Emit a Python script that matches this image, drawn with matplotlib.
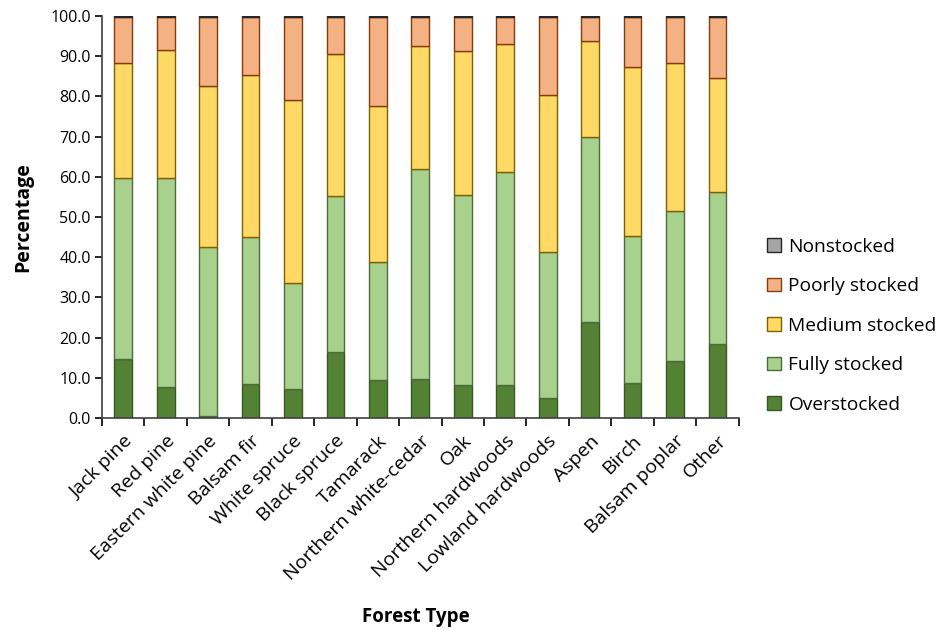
import numpy as np
import matplotlib
matplotlib.use("Agg")
import matplotlib.pyplot as plt
from matplotlib.patches import Patch

plt.rcParams["font.family"] = ["Open Sans", "DejaVu Sans"]

forest_types = [
    "Jack pine", "Red pine", "Eastern white pine", "Balsam fir", "White spruce",
    "Black spruce", "Tamarack", "Northern white-cedar", "Oak", "Northern hardwoods",
    "Lowland hardwoods", "Aspen", "Birch", "Balsam poplar", "Other",
]

# Share of area (%) by stocking class, bottom to top of each stack
overstocked = [14.6, 7.7, 0.5, 8.5, 7.3, 16.5, 9.4, 9.7, 8.1, 8.3, 4.9, 23.8, 8.8, 14.3, 18.5]
fully_stocked = [45.1, 52.1, 42.1, 36.6, 26.4, 38.8, 29.3, 52.3, 47.4, 52.8, 36.4, 46.2, 36.4, 37.1, 37.8]
medium_stocked = [28.5, 31.7, 40.1, 40.2, 45.3, 35.2, 39.0, 30.6, 35.9, 31.9, 39.0, 23.9, 42.1, 36.8, 28.3]
poorly_stocked = [11.6, 8.2, 17.0, 14.5, 20.7, 9.2, 22.0, 7.2, 8.4, 6.8, 19.5, 5.9, 12.5, 11.5, 15.1]
nonstocked = [0.2, 0.3, 0.3, 0.2, 0.3, 0.3, 0.3, 0.2, 0.2, 0.2, 0.2, 0.2, 0.2, 0.3, 0.3]

series = [
    ("Overstocked", overstocked, "#548235", "#385723"),
    ("Fully stocked", fully_stocked, "#A9D18E", "#4E6B3A"),
    ("Medium stocked", medium_stocked, "#FFD966", "#7F6000"),
    ("Poorly stocked", poorly_stocked, "#F4B183", "#843C0C"),
    ("Nonstocked", nonstocked, "#A5A5A5", "#262626"),
]

fig = plt.figure(figsize=(9.46, 6.3), dpi=100)
ax = fig.add_axes([0.1078, 0.3365, 0.673, 0.638])

x = np.arange(len(forest_types))
bottom = np.zeros(len(forest_types))
handles = []
for name, vals, face, edge in series:
    vals = np.array(vals)
    ax.bar(x, vals, width=0.42, bottom=bottom, color=face,
           edgecolor=edge, linewidth=1.0, zorder=2)
    bottom += vals
    handles.append(Patch(facecolor=face, edgecolor=edge, linewidth=1.0, label=name))

ax.set_xlim(-0.5, len(forest_types) - 0.5)
ax.set_ylim(0, 100)
ax.set_yticks(np.arange(0, 101, 10))
ax.set_yticklabels([f"{v:.1f}" for v in np.arange(0, 101, 10)], fontsize=11.5)

# category boundaries carry the tick marks, labels sit under the bars
ax.set_xticks(np.arange(-0.5, len(forest_types), 1.0))
ax.set_xticklabels([])
ax.set_xticks(x, minor=True)
ax.set_xticklabels(forest_types, minor=True, rotation=45, ha="right",
                   rotation_mode="anchor", fontsize=14)
ax.tick_params(axis="x", which="minor", length=0, pad=10)
ax.tick_params(axis="x", which="major", length=6, width=1.2, direction="out")
ax.tick_params(axis="y", length=5, width=1.2, direction="out", pad=3)

for side in ["top", "right"]:
    ax.spines[side].set_visible(False)
for side in ["left", "bottom"]:
    ax.spines[side].set_linewidth(1.2)
    ax.spines[side].set_color("#404040")

ax.set_ylabel("Percentage", fontsize=14, fontweight="bold", labelpad=12)
fig.text(0.44, 0.005, "Forest Type", fontsize=13.5, fontweight="bold",
         ha="center", va="bottom")

fig.legend(handles=handles[::-1], loc="center left",
           bbox_to_anchor=(0.799, 0.483), frameon=False, fontsize=13.8,
           handlelength=0.7, handleheight=0.7, handletextpad=0.4,
           labelspacing=1.12, borderaxespad=0.2)

fig.savefig("out.png", dpi=100)
